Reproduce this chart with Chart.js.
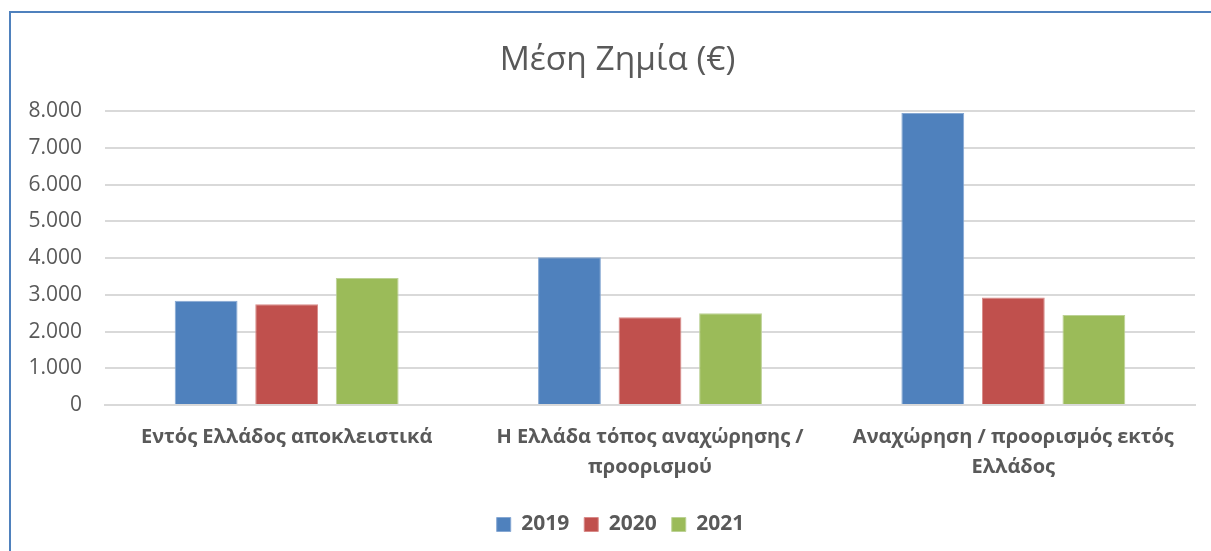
<!DOCTYPE html>
<html>
<head>
<meta charset="utf-8">
<script src="https://cdn.jsdelivr.net/npm/chart.js@4"></script>
<style>
  html, body { margin: 0; padding: 0; background: #ffffff; }
  #wrap { position: absolute; left: 0; top: 0; width: 1211px; height: 551px; }
  #frame { position: absolute; left: 9px; top: 11px; width: 1202px; height: 540px;
           border-top: 2px solid #4F81BD; border-left: 2px solid #4F81BD; box-sizing: border-box; pointer-events: none; }
  canvas { position: absolute; left: 0; top: 0; }
</style>
</head>
<body>
<div id="wrap">
  <canvas id="c" width="1211" height="551"></canvas>
  <div id="frame"></div>
</div>
<script>
const title = 'Μέση Ζημία (€)';
const categories = [
  ['Εντός Ελλάδος αποκλειστικά'],
  ['Η Ελλάδα τόπος αναχώρησης /', 'προορισμού'],
  ['Αναχώρηση / προορισμός εκτός', 'Ελλάδος']
];
const seriesNames = ['2019', '2020', '2021'];
const values2019 = [2840, 4020, 7950];
const values2020 = [2740, 2390, 2930];
const values2021 = [3460, 2500, 2450];
const yTicks = [0, 1000, 2000, 3000, 4000, 5000, 6000, 7000, 8000];

const fills = ['#4F81BD', '#C0504D', '#9BBB59'];
const edges = ['#86A8D3', '#D88A88', '#BCD295'];
const textColor = '#595959';
const fontFam = '"Open Sans", "DejaVu Sans", sans-serif';

function fmt(v) { return String(v).replace(/\B(?=(\d{3})+(?!\d))/g, '.'); }

// shift title and legend horizontally to match the original's centring
const shiftPlugin = {
  id: 'shiftBlocks',
  afterLayout(chart) {
    if (chart.titleBlock) { chart.titleBlock.left += 10; chart.titleBlock.right += 10; }
    if (chart.legend) { chart.legend.left += 13; chart.legend.right += 13; }
  }
};

const allValues = [values2019, values2020, values2021];
new Chart(document.getElementById('c'), {
  type: 'bar',
  data: {
    labels: categories,
    datasets: allValues.map((vals, i) => ({
      label: seriesNames[i],
      data: vals,
      backgroundColor: fills[i],
      borderColor: edges[i],
      borderWidth: 1,
      categoryPercentage: 0.665,
      barPercentage: 0.78
    }))
  },
  plugins: [shiftPlugin],
  options: {
    responsive: false,
    animation: false,
    devicePixelRatio: 1,
    layout: { padding: { left: 20, right: 16, top: 12, bottom: 6 } },
    plugins: {
      title: {
        display: true,
        text: title,
        color: textColor,
        font: { family: fontFam, size: 33.5, weight: '400', lineHeight: 1.2 },
        padding: { top: 28, bottom: 31 }
      },
      legend: {
        display: true,
        position: 'bottom',
        labels: {
          color: textColor,
          font: { family: fontFam, size: 21, weight: 'bold' },
          boxWidth: 14,
          boxHeight: 14,
          padding: 15
        }
      },
      tooltip: { enabled: false }
    },
    scales: {
      x: {
        grid: { display: false, drawTicks: false },
        border: { display: true, color: '#D9D9D9', width: 2 },
        ticks: {
          color: textColor,
          font: { family: fontFam, size: 20, weight: 'bold', lineHeight: 1.5 },
          maxRotation: 0,
          autoSkip: false,
          padding: 17
        }
      },
      y: {
        min: 0,
        max: 8000,
        afterBuildTicks: (scale) => { scale.ticks = yTicks.map(v => ({ value: v })); },
        afterFit: (scale) => { scale.width = 85; },
        grid: { color: '#D9D9D9', lineWidth: 2, drawTicks: false },
        border: { display: false },
        ticks: {
          color: textColor,
          font: { family: fontFam, size: 21 },
          padding: 23,
          callback: (v) => fmt(v)
        }
      }
    }
  }
});
</script>
</body>
</html>
